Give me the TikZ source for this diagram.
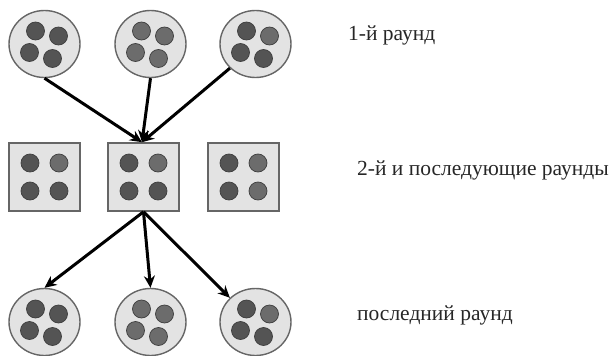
\documentclass[tikz,border=0pt]{standalone}
\usepackage{fontspec}
\setmainfont{Liberation Serif}
\usetikzlibrary{shapes.geometric,arrows.meta}
\definecolor{groupfill}{HTML}{E3E3E3}
\definecolor{groupline}{HTML}{666666}
\definecolor{dotdark}{HTML}{545454}
\definecolor{dotmid}{HTML}{6C6C6C}
\definecolor{dotline}{HTML}{3E3E3E}
\tikzset{
  grp/.style={ellipse, draw=groupline, line width=1.4pt, fill=groupfill, minimum width=71pt, minimum height=67pt, inner sep=0pt},
  sqgrp/.style={rectangle, draw=groupline, line width=1.6pt, fill=groupfill, minimum width=71pt, minimum height=68pt, inner sep=0pt},
  dot/.style={circle, draw=dotline, line width=0.7pt, fill=#1, minimum size=18pt, inner sep=0pt},
  conn/.style={line width=3pt, -{Stealth[length=12pt,width=11pt]}},
  lbl/.style={anchor=base west, inner sep=0pt, font=\fontsize{21.5}{24}\selectfont, text=black!85}
}
\begin{document}
\begin{tikzpicture}[x=1pt,y=-1pt]
\useasboundingbox (0,0) rectangle (613,356);
% top circles
\node[grp] (t1) at (44.5,44) {};
\node[grp] (t2) at (150.5,44) {};
\node[grp] (t3) at (255.5,44) {};
% squares
\node[sqgrp] (s1) at (44.5,177) {};
\node[sqgrp] (s2) at (143.5,177) {};
\node[sqgrp] (s3) at (243.5,177) {};
% bottom circles
\node[grp] (b1) at (44.5,322) {};
\node[grp] (b2) at (150.5,322) {};
\node[grp] (b3) at (255.5,322) {};
% dots in circles
\foreach \g/\ca/\cb/\cc/\cd in {t1/dotdark/dotdark/dotdark/dotdark, t2/dotmid/dotmid/dotmid/dotmid, t3/dotdark/dotmid/dotdark/dotdark,
                                 b1/dotdark/dotdark/dotdark/dotdark, b2/dotmid/dotmid/dotmid/dotmid, b3/dotdark/dotmid/dotdark/dotdark}{
  \node[dot=\ca] (\g d1) at ([xshift=-9pt,yshift=13pt]\g.center) {};
  \node[dot=\cb] (\g d2) at ([xshift=14pt,yshift=8pt]\g.center) {};
  \node[dot=\cc] (\g d3) at ([xshift=-15pt,yshift=-8.5pt]\g.center) {};
  \node[dot=\cd] (\g d4) at ([xshift=8pt,yshift=-14.5pt]\g.center) {};
}
% dots in squares
\foreach \g/\ca/\cb/\cc/\cd in {s1/dotdark/dotmid/dotdark/dotdark, s2/dotdark/dotmid/dotdark/dotdark, s3/dotdark/dotmid/dotdark/dotmid}{
  \node[dot=\ca] (\g d1) at ([xshift=-14.5pt,yshift=14pt]\g.center) {};
  \node[dot=\cb] (\g d2) at ([xshift=14.5pt,yshift=14pt]\g.center) {};
  \node[dot=\cc] (\g d3) at ([xshift=-14.5pt,yshift=-14pt]\g.center) {};
  \node[dot=\cd] (\g d4) at ([xshift=14.5pt,yshift=-14pt]\g.center) {};
}
% connectors
\draw[conn] (t1.south) -- ([xshift=-1.5pt]s2.north);
\draw[conn] (t2.south) -- ([xshift=-1.5pt]s2.north);
\draw[conn] (t3.south west) -- ([xshift=-1.5pt]s2.north);
\draw[conn] (s2.south) -- (b1.north);
\draw[conn] (s2.south) -- (b2.north);
\draw[conn] (s2.south) -- (b3.north west);
% labels
\node[lbl] (l1) at (348,40.7) {1-й раунд};
\node[lbl] (l2) at (357,175) {2-й и последующие раунды};
\node[lbl] (l3) at (357,320.7) {последний раунд};
\end{tikzpicture}
\end{document}
